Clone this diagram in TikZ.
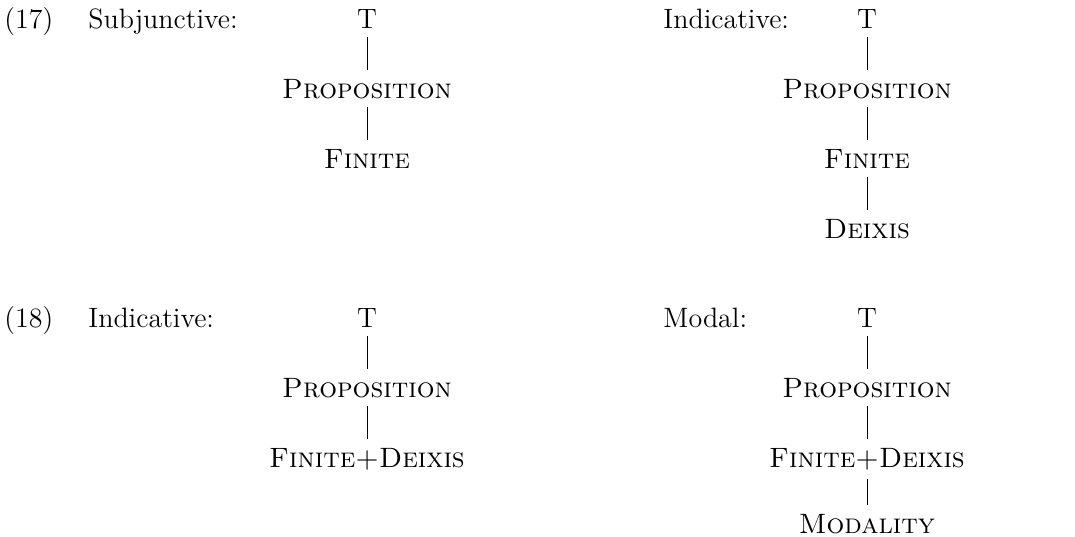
\documentclass[tikz,border=0pt]{standalone}
\usepackage{fontspec}
\begin{document}
\begin{tikzpicture}[x=0.5pt,y=-0.5pt,
  lbl/.style={anchor=base west,inner sep=0pt,font=\fontsize{14}{16}\selectfont},
  tn/.style={anchor=base,inner sep=0pt,outer sep=4.5pt,font=\fontsize{14}{16}\selectfont},
  br/.style={line width=0.4pt}]
\useasboundingbox (0,0) rectangle (1075,536);
% (17)
\node[lbl] (n17) at (4,28) {(17)};
\node[lbl] (s17a) at (88,28) {Subjunctive:};
\node[tn] (a1) at (367,28) {T};
\node[tn] (a2) at (367,98) {\textsc{Proposition}};
\node[tn] (a3) at (367,168) {\textsc{Finite}};
\draw[br] (a1) -- (a2);
\draw[br] (a2) -- (a3);
\node[lbl] (s17b) at (663,28) {Indicative:};
\node[tn] (b1) at (867,28) {T};
\node[tn] (b2) at (867,98) {\textsc{Proposition}};
\node[tn] (b3) at (867,168) {\textsc{Finite}};
\node[tn] (b4) at (867,238) {\textsc{Deixis}};
\draw[br] (b1) -- (b2);
\draw[br] (b2) -- (b3);
\draw[br] (b3) -- (b4);
% (18)
\node[lbl] (n18) at (4,327) {(18)};
\node[lbl] (s18a) at (88,327) {Indicative:};
\node[tn] (c1) at (367,327) {T};
\node[tn] (c2) at (367,397) {\textsc{Proposition}};
\node[tn] (c3) at (367,467) {\textsc{Finite+Deixis}};
\draw[br] (c1) -- (c2);
\draw[br] (c2) -- (c3);
\node[lbl] (s18b) at (663,327) {Modal:};
\node[tn] (d1) at (867,327) {T};
\node[tn] (d2) at (867,397) {\textsc{Proposition}};
\node[tn] (d3) at (867,467) {\textsc{Finite+Deixis}};
\node[tn] (d4) at (867,533) {\textsc{Modality}};
\draw[br] (d1) -- (d2);
\draw[br] (d2) -- (d3);
\draw[br] (d3) -- (d4);
\end{tikzpicture}
\end{document}
